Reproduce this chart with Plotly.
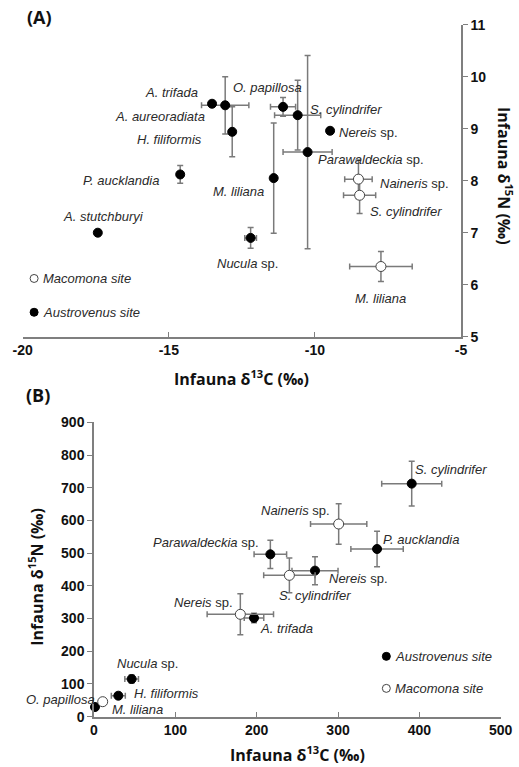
import plotly.graph_objects as go

# ---------------- Panel A data ----------------
a_fill_species = ["A. trifada", "A. aureoradiata", "H. filiformis", "O. papillosa",
                  "S. cylindrifer", "Parawaldeckia sp.", "Nereis sp.", "M. liliana",
                  "P. aucklandia", "A. stutchburyi", "Nucula sp."]
a_fill_c = [-13.52, -13.07, -12.83, -11.09, -10.59, -10.25, -9.48, -11.41, -14.61, -17.43, -12.20]
a_fill_n = [9.48, 9.45, 8.94, 9.42, 9.26, 8.55, 8.96, 8.05, 8.12, 7.00, 6.90]
a_fill_cerr = [0, 0.81, 0, 0.43, 0.79, 0.84, 0, 0, 0, 0, 0.20]
a_fill_nerr = [0, 0.55, 0.48, 0.18, 0.67, 1.86, 0, 1.06, 0.17, 0, 0.20]

a_open_species = ["Naineris sp.", "S. cylindrifer", "M. liliana"]
a_open_c = [-8.51, -8.47, -7.74]
a_open_n = [8.03, 7.72, 6.35]
a_open_cerr = [0.47, 0.55, 1.07]
a_open_nerr = [0.37, 0.35, 0.29]

a_xticks = [-20, -15, -10, -5]
a_xticklabels = ["-20", "-15", "-10", "-5"]
a_yticks = [5, 6, 7, 8, 9, 10, 11]

# ---------------- Panel B data ----------------
b_fill_species = ["S. cylindrifer", "P. aucklandia", "Parawaldeckia sp.", "Nereis sp.",
                  "A. trifada", "Nucula sp.", "H. filiformis", "O. papillosa"]
b_fill_c = [390.6, 348.0, 216.8, 271.7, 196.7, 46.3, 29.9, 1.2]
b_fill_n = [712.5, 512.7, 496.4, 446.5, 301.8, 115.2, 64.2, 29.6]
b_fill_cerr = [36.9, 32.2, 20.0, 28.3, 12.0, 8.4, 8.6, 0]
b_fill_nerr = [68.3, 54.5, 43.3, 42.8, 14.3, 12.0, 8.0, 0]

b_open_species = ["Naineris sp.", "S. cylindrifer", "Nereis sp.", "M. liliana"]
b_open_c = [300.8, 240.2, 179.9, 10.7]
b_open_n = [589.0, 432.2, 313.0, 45.9]
b_open_cerr = [34.6, 31.6, 40.8, 0]
b_open_nerr = [61.7, 53.0, 62.7, 0]

b_xticks = [0, 100, 200, 300, 400, 500]
b_yticks = [0, 100, 200, 300, 400, 500, 600, 700, 800, 900]

legend_names = ["Austrovenus site", "Macomona site"]

# ---------------- styling ----------------
W, H = 519, 767
ERR_COLOR = "#7a7a7a"
AXIS_COLOR = "#7f7f7f"
LABEL_COLOR = "#2a2a2a"
LABEL_FONT = dict(family="Liberation Sans, Arial, sans-serif", size=13, color=LABEL_COLOR)
TICK_FONT = dict(family="Liberation Sans, Arial, sans-serif", size=14, color="#111111", weight="bold")
TITLE_FONT = dict(family="Open Sans, sans-serif", size=16, color="#111111", weight="bold")

def fmt(name):
    if name.endswith(" sp."):
        return "<i>" + name[:-4] + "</i> sp."
    return "<i>" + name + "</i>"

def errs(vals):
    return dict(type="data", array=vals, visible=True, color=ERR_COLOR, thickness=1.5, width=3)

fig = go.Figure()

def add_points(x, y, xe, ye, filled, xa, ya):
    fig.add_trace(go.Scatter(
        x=x, y=y, mode="markers", xaxis=xa, yaxis=ya,
        error_x=errs(xe), error_y=errs(ye),
        marker=dict(size=9 if filled else 10,
                    color="black" if filled else "white",
                    line=dict(color="black" if filled else "#444444", width=1)),
        showlegend=False, cliponaxis=False))

add_points(a_fill_c, a_fill_n, a_fill_cerr, a_fill_nerr, True, "x", "y")
add_points(a_open_c, a_open_n, a_open_cerr, a_open_nerr, False, "x", "y")
add_points(b_fill_c, b_fill_n, b_fill_cerr, b_fill_nerr, True, "x2", "y2")
add_points(b_open_c, b_open_n, b_open_cerr, b_open_nerr, False, "x2", "y2")

# in-plot key markers (as drawn in the figure)
key_a_x = -19.61
key_a_y = [5.47, 6.12]
key_b_x = 359.4
key_b_y = [184.5, 86.6]
for i, (ya_, yb_) in enumerate(zip(key_a_y, key_b_y)):
    filled = i == 0
    mk = dict(size=8, color="black" if filled else "white",
              line=dict(color="black" if filled else "#444444", width=1))
    fig.add_trace(go.Scatter(x=[key_a_x], y=[ya_], mode="markers", marker=mk,
                             xaxis="x", yaxis="y", showlegend=False, cliponaxis=False))
    fig.add_trace(go.Scatter(x=[key_b_x], y=[yb_], mode="markers", marker=mk,
                             xaxis="x2", yaxis="y2", showlegend=False, cliponaxis=False))

annotations = []

def lab(text, x, y, xanchor, xref, yref):
    annotations.append(dict(text=text, x=x, y=y, xref=xref, yref=yref,
                            xanchor=xanchor, yanchor="middle", showarrow=False,
                            font=LABEL_FONT))

# Panel A label placements
a_fill_lab = [(-13.93, 9.69, "right"), (-13.68, 9.23, "right"), (-13.79, 8.80, "right"),
              (-12.87, 9.79, "left"), (-10.23, 9.36, "left"), (-9.97, 8.40, "left"),
              (-9.25, 8.93, "left"), (-11.68, 7.80, "right"), (-15.27, 8.01, "right"),
              (-17.24, 7.32, "center"), (-12.31, 6.41, "center")]
a_open_lab = [(-7.83, 7.94, "left"), (-8.19, 7.41, "left"), (-7.76, 5.74, "center")]
for sp, (x, y, anc) in zip(a_fill_species, a_fill_lab):
    lab(fmt(sp), x, y, anc, "x", "y")
for sp, (x, y, anc) in zip(a_open_species, a_open_lab):
    lab(fmt(sp), x, y, anc, "x", "y")

b_fill_lab = [(392.6, 756.6, "left"), (352.9, 540.4, "left"), (205.3, 532.0, "right"),
              (286.9, 422.0, "left"), (201.3, 270.3, "left"), (65.2, 163.3, "center"),
              (46.3, 70.3, "left"), (4.1, 54.0, "right")]
b_open_lab = [(293.0, 629.0, "right"), (224.6, 370.0, "left"), (173.4, 348.6, "right"),
              (19.7, 22.6, "left")]
for sp, (x, y, anc) in zip(b_fill_species, b_fill_lab):
    lab(fmt(sp), x, y, anc, "x2", "y2")
for sp, (x, y, anc) in zip(b_open_species, b_open_lab):
    lab(fmt(sp), x, y, anc, "x2", "y2")

# key labels
lab("<i>" + legend_names[0] + "</i>", -19.38, key_a_y[0], "left", "x", "y")
lab("<i>" + legend_names[1] + "</i>", -19.38, key_a_y[1], "left", "x", "y")
lab("<i>" + legend_names[0] + "</i>", 368, key_b_y[0], "left", "x2", "y2")
lab("<i>" + legend_names[1] + "</i>", 368, key_b_y[1], "left", "x2", "y2")

# panel letters and axis titles
def ptxt(text, x, y, angle=0, size=16):
    f = dict(TITLE_FONT)
    f["size"] = size
    annotations.append(dict(text=text, x=x / W, y=1 - y / H, xref="paper", yref="paper",
                            xanchor="center", yanchor="middle", showarrow=False,
                            textangle=angle, font=f))

ptxt("(A)", 39, 17, size=18)
ptxt("(B)", 38, 394.5, size=18)
ptxt("Infauna δ<sup>13</sup>C (‰)", 241.7, 378)
ptxt("Infauna δ<sup>15</sup>N (‰)", 505, 176, angle=90)
ptxt("Infauna δ<sup>13</sup>C (‰)", 297, 754)
ptxt("Infauna δ<sup>15</sup>N (‰)", 36, 576.7, angle=-90)

axis_common = dict(showgrid=False, zeroline=False, showline=True, linecolor=AXIS_COLOR,
                   linewidth=1.5, tickcolor=AXIS_COLOR, tickwidth=1.2, ticklen=5,
                   tickfont=TICK_FONT, fixedrange=True, automargin=False)

fig.update_layout(
    width=W, height=H,
    margin=dict(l=0, r=0, t=0, b=0, pad=0, autoexpand=False),
    paper_bgcolor="white", plot_bgcolor="white",
    showlegend=False,
    xaxis=dict(axis_common, domain=[22.7 / W, 461 / W], range=[-20, -5],
               tickvals=a_xticks, ticktext=a_xticklabels, ticks="inside", anchor="y", side="bottom"),
    yaxis=dict(axis_common, domain=[1 - 336.7 / H, 1 - 24.7 / H], range=[5, 11],
               tickvals=a_yticks, ticks="outside", anchor="x", side="right"),
    xaxis2=dict(axis_common, domain=[94 / W, 500.7 / W], range=[0, 500],
                tickvals=b_xticks, ticks="inside", anchor="y2"),
    yaxis2=dict(axis_common, domain=[1 - 716.7 / H, 1 - 422.3 / H], range=[0, 900],
                tickvals=b_yticks, ticks="outside", anchor="x2"),
    annotations=annotations,
)

fig.write_html(
    "out.html",
    config={"displayModeBar": False},
    post_script="document.documentElement.style.margin='0';document.body.style.margin='0';"
                "document.body.style.padding='0';document.body.style.overflow='hidden';",
)
